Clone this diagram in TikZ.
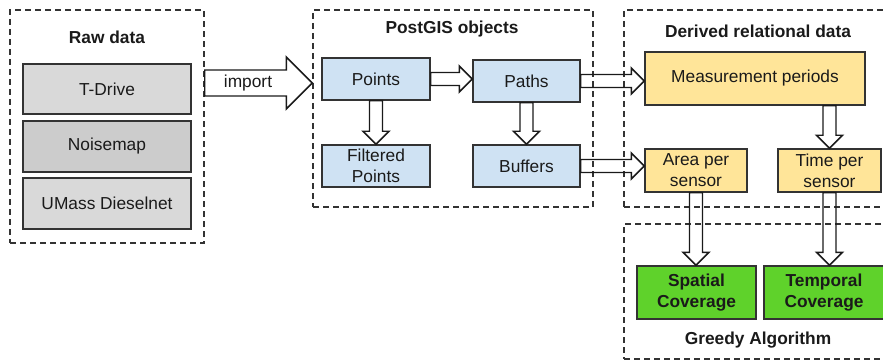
\documentclass[tikz,border=0pt]{standalone}
\usepackage{fontspec}
\setmainfont{Liberation Sans}
\usetikzlibrary{calc}
\definecolor{boxline}{HTML}{333333}
\definecolor{textdark}{HTML}{1A1A1A}
\definecolor{rawgray}{HTML}{D9D9D9}
\definecolor{noisegray}{HTML}{CCCCCC}
\definecolor{gisblue}{HTML}{CFE2F3}
\definecolor{relyellow}{HTML}{FFE599}
\definecolor{greedygreen}{HTML}{5FD22B}

% Hollow block arrows: start, tip, size factor.
\newcommand{\rightblock}[3]{%
  \draw[blockarrow] let \p1=(#1), \p2=(#2) in
    (\x1,\y1+#3*4.875pt) -- (\x2-#3*9.75pt,\y1+#3*4.875pt)
    -- (\x2-#3*9.75pt,\y1+#3*9.75pt) -- (\x2,\y1)
    -- (\x2-#3*9.75pt,\y1-#3*9.75pt) -- (\x2-#3*9.75pt,\y1-#3*4.875pt)
    -- (\x1,\y1-#3*4.875pt) -- cycle;}
\newcommand{\downblock}[3]{%
  \draw[blockarrow] let \p1=(#1), \p2=(#2) in
    (\x1+#3*4.875pt,\y1) -- (\x1+#3*4.875pt,\y2+#3*9.75pt)
    -- (\x1+#3*9.75pt,\y2+#3*9.75pt) -- (\x1,\y2)
    -- (\x1-#3*9.75pt,\y2+#3*9.75pt) -- (\x1-#3*4.875pt,\y2+#3*9.75pt)
    -- (\x1-#3*4.875pt,\y1) -- cycle;}

\begin{document}
\begin{tikzpicture}[
  x=0.75pt,
  y=-0.75pt,
  line join=miter,
  every node/.style={text=textdark,font=\fontsize{13}{15.75}\selectfont,inner sep=0pt},
  groupbox/.style={draw=boxline,line width=1.1pt,dash pattern=on 4.5pt off 3pt},
  grouptitle/.style={font=\fontsize{13}{15.75}\selectfont\bfseries},
  rawbox/.style={draw=boxline,line width=1.1pt,minimum width=126pt,minimum height=37.5pt},
  gisbox/.style={draw=boxline,line width=1.1pt,fill=gisblue,align=center,
    minimum width=81pt,minimum height=31.5pt},
  relbox/.style={draw=boxline,line width=1.1pt,fill=relyellow,align=center,
    minimum width=76.5pt,minimum height=32.25pt},
  greedybox/.style={draw=boxline,line width=1.1pt,fill=greedygreen,align=center,
    font=\fontsize{13}{15.75}\selectfont\bfseries,minimum width=89.25pt,minimum height=39.75pt},
  blockarrow/.style={draw=textdark,line width=1.1pt}
]
  % Keep the frame of the original, which cuts the right-hand groups.
  \clip (0,0) rectangle (883,360);

  % Dashed groups.
  \node[groupbox,minimum width=145.5pt,minimum height=174.75pt] (rawgroup) at (107,126.5) {};
  \node[groupbox,minimum width=210pt,minimum height=147.75pt] (gisgroup) at (453,108.5) {};
  \node[groupbox,minimum width=207pt,minimum height=147.75pt] (relgroup) at (762,108.5) {};
  \node[groupbox,minimum width=207pt,minimum height=101.25pt] (greedygroup) at (762,291.5) {};

  \node[grouptitle] (rawtitle) at (107,37) {Raw data};
  \node[grouptitle] (gistitle) at (452,29) {PostGIS objects};
  \node[grouptitle] (reltitle) at (758,31) {Derived relational data};
  \node[grouptitle] (greedytitle) at (758,340) {Greedy Algorithm};

  % Raw data sources.
  \node[rawbox,fill=rawgray] (tdrive) at (107,89) {T-Drive};
  \node[rawbox,fill=noisegray,minimum height=38.25pt] (noisemap) at (107,146.5) {Noisemap};
  \node[rawbox,fill=rawgray,minimum height=38.25pt] (umass) at (107,203.5) {UMass Dieselnet};

  % PostGIS objects.
  \node[gisbox] (points) at (376,79) {Points};
  \node[gisbox,minimum width=80.25pt] (paths) at (526.5,81) {Paths};
  \node[gisbox] (filtered) at (376,166) {Filtered\\Points};
  \node[gisbox,minimum width=80.25pt] (buffers) at (526.5,166) {Buffers};

  % Derived relational data.
  \node[relbox,minimum width=165pt,minimum height=39.75pt] (measurement) at (755,78.5) {Measurement periods};
  \node[relbox] (area) at (696,170.5) {Area per\\sensor};
  \node[relbox,minimum width=77.25pt] (time) at (829.5,170.5) {Time per\\sensor};

  % Greedy algorithm results.
  \node[greedybox] (spatial) at (696.5,292.5) {Spatial\\Coverage};
  \node[greedybox,minimum width=90pt] (temporal) at (824,292.5) {Temporal\\Coverage};

  % Flow between the stages.
  \node (importlbl) at (248,83) {import};
  \rightblock{rawgroup.east |- importlbl}{gisgroup.west |- importlbl}{2}
  \rightblock{points.east}{paths.west}{1}
  \rightblock{paths.east}{measurement.west}{1}
  \rightblock{buffers.east}{area.west}{1}
  \downblock{points.south}{filtered.north}{1}
  \downblock{paths.south}{buffers.north}{1}
  \downblock{measurement.south -| time.north}{time.north}{1}
  \downblock{area.south}{spatial.north}{1}
  \downblock{time.south}{temporal.north}{1}
\end{tikzpicture}
\end{document}
